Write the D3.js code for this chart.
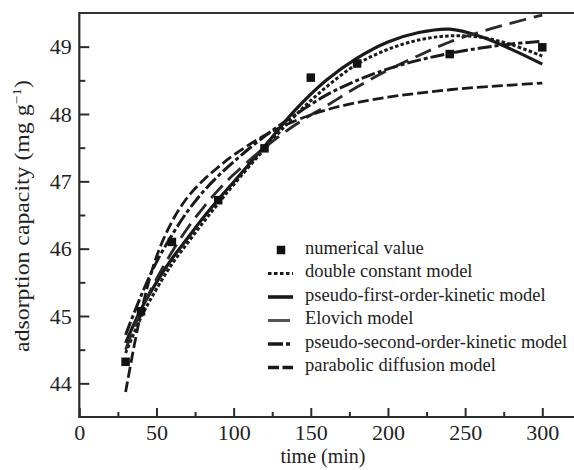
<!DOCTYPE html>
<html><head><meta charset="utf-8">
<script src="https://cdn.jsdelivr.net/npm/d3@7"></script>
<style>
html,body{margin:0;padding:0;background:#fff;}
svg{display:block;font-family:"Liberation Serif","Times New Roman",serif;}
</style></head>
<body><svg id="c" width="574" height="470"></svg>
<script>
// ---- data ----
const pointTimes = [30, 40, 60, 90, 120, 150, 180, 240, 300];
const pointValues = [44.32, 45.07, 46.1, 46.72, 47.49, 48.54, 48.75, 48.89, 48.99];

const curveTimes = [30, 40, 50, 60, 70, 80, 90, 100, 120, 140, 160, 180, 200, 220, 240, 260, 280, 300];
const doubleConstant = [44.45, 44.98, 45.4, 45.77, 46.08, 46.38, 46.67, 46.95, 47.48, 47.98, 48.4, 48.74, 48.96, 49.1, 49.16, 49.14, 49.03, 48.86];
const pseudoFirst = [44.6, 45.1, 45.5, 45.85, 46.15, 46.45, 46.73, 46.99, 47.52, 48.06, 48.5, 48.83, 49.07, 49.21, 49.26, 49.15, 48.96, 48.74];
const elovich = [44.5, 45.08, 45.55, 45.95, 46.3, 46.6, 46.87, 47.1, 47.5, 47.84, 48.12, 48.4, 48.65, 48.87, 49.07, 49.22, 49.35, 49.47];
const pseudoSecond = [44.72, 45.3, 45.8, 46.2, 46.55, 46.84, 47.08, 47.29, 47.67, 47.99, 48.28, 48.5, 48.67, 48.8, 48.9, 48.98, 49.04, 49.08];
const parabolic = [43.87, 45.05, 45.88, 46.4, 46.76, 47.01, 47.21, 47.39, 47.68, 47.9, 48.06, 48.17, 48.25, 48.31, 48.36, 48.4, 48.43, 48.46];

const xTicks = [0, 50, 100, 150, 200, 250, 300];
const xMinor = [25, 75, 125, 175, 225, 275];
const yTicks = [44, 45, 46, 47, 48, 49];
const yMinor = [44.5, 45.5, 46.5, 47.5, 48.5];

const legendLabels = ["numerical value", "double constant model", "pseudo-first-order-kinetic model",
  "Elovich model", "pseudo-second-order-kinetic model", "parabolic diffusion model"];

// ---- setup ----
const svg = d3.select("#c");
const L = 79.3, R = 574, T = 13, B = 417;
const x = d3.scaleLinear().domain([0, 320]).range([L, L + 320 * 1.5433]);
const y = d3.scaleLinear().domain([43.5, 49.5]).range([B, T]);
const ink = "#1a1a1a";

svg.append("defs").append("clipPath").attr("id", "clip")
  .append("rect").attr("x", L).attr("y", T).attr("width", R - L).attr("height", B - T);

// series definitions
const series = [
  {vals: doubleConstant, dash: "3.5,2.2", w: 3, color: ink, legDash: "3.5,2.5", legW: 3},
  {vals: pseudoFirst, dash: null, w: 3.2, color: ink, legDash: null, legW: 3.6},
  {vals: elovich, dash: "17,8", w: 2.8, color: "#2a2a2a", legDash: null, legW: 3, legColor: "#555", legLen: 22},
  {vals: pseudoSecond, dash: "14,3,4,3", w: 3, color: ink, legDash: "15,3,4,3", legW: 3.4},
  {vals: parabolic, dash: "11,4", w: 2.8, color: ink, legDash: "11,3.5", legW: 3.4}
];

const line = d3.line()
  .x((d, i) => x(curveTimes[i]))
  .y(d => y(d))
  .curve(d3.curveCatmullRom.alpha(0.5));

const plot = svg.append("g").attr("clip-path", "url(#clip)");
series.forEach(s => {
  plot.append("path").datum(s.vals)
    .attr("d", line)
    .attr("fill", "none")
    .attr("stroke", s.color)
    .attr("stroke-width", s.w)
    .attr("stroke-dasharray", s.dash)
    .attr("stroke-linejoin", "round");
});

// squares
const sq = 8.5;
plot.selectAll("rect.pt").data(pointTimes).enter().append("rect")
  .attr("class", "pt")
  .attr("x", (d) => x(d) - sq / 2)
  .attr("y", (d, i) => y(pointValues[i]) - sq / 2)
  .attr("width", sq).attr("height", sq)
  .attr("fill", "#111");

// ---- axes ----
const axisColor = "#2b2b2b";
const gx = svg.append("g").attr("transform", `translate(0,${B})`)
  .call(d3.axisBottom(x).tickValues(xTicks).tickSizeInner(-9).tickSizeOuter(0).tickPadding(7).tickFormat(d3.format("d")));
const gxm = svg.append("g").attr("transform", `translate(0,${B})`)
  .call(d3.axisBottom(x).tickValues(xMinor).tickSizeInner(-5).tickSizeOuter(0).tickFormat(""));
const gy = svg.append("g").attr("transform", `translate(${L},0)`)
  .call(d3.axisLeft(y).tickValues(yTicks).tickSizeInner(-10).tickSizeOuter(0).tickPadding(7.6).tickFormat(d3.format("d")));
const gym = svg.append("g").attr("transform", `translate(${L},0)`)
  .call(d3.axisLeft(y).tickValues(yMinor).tickSizeInner(-6).tickSizeOuter(0).tickFormat(""));

[gx, gxm, gy, gym].forEach(g => {
  g.select(".domain").remove();
  g.selectAll(".tick line").attr("stroke", axisColor).attr("stroke-width", 2);
  g.selectAll("text").attr("fill", "#222").style("font-family", "'Liberation Serif','Times New Roman',serif").style("font-size", "22px");
});

// frame lines
svg.append("line").attr("x1", L).attr("x2", R).attr("y1", B).attr("y2", B)
  .attr("stroke", axisColor).attr("stroke-width", 2.2);
svg.append("line").attr("x1", L).attr("x2", L).attr("y1", T - 1).attr("y2", B + 1)
  .attr("stroke", axisColor).attr("stroke-width", 2.2);
svg.append("line").attr("x1", L).attr("x2", R).attr("y1", T).attr("y2", T)
  .attr("stroke", "#333").attr("stroke-width", 2.2);

// axis titles
svg.append("text").attr("x", 323).attr("y", 462.5).attr("text-anchor", "middle")
  .attr("fill", "#222").style("font-size", "20px").text("time (min)");

const yt = svg.append("text").attr("text-anchor", "middle")
  .attr("fill", "#222").style("font-size", "20px");
yt.append("tspan").text("adsorption capacity (mg g");
yt.append("tspan").attr("dy", -8).style("font-size", "13px").text("\u22121");
yt.append("tspan").attr("dy", 8).text(")");
const natural = yt.node().getComputedTextLength();
const sc = 272 / natural;
yt.attr("transform", `translate(29,216) rotate(-90) scale(${sc},1)`);

// ---- legend ----
const leg = svg.append("g");
const legX0 = 268, legX1 = 293, textX = 305, row0 = 250, rowH = 23.5;
legendLabels.forEach((lab, i) => {
  const cy = row0 + i * rowH;
  if (i === 0) {
    leg.append("rect").attr("x", 281 - 4.25).attr("y", cy - 4.25).attr("width", 8.5).attr("height", 8.5).attr("fill", "#111");
  } else {
    const s = series[i - 1];
    leg.append("line")
      .attr("x1", legX0).attr("x2", s.legLen ? legX0 + s.legLen : legX1)
      .attr("y1", cy).attr("y2", cy)
      .attr("stroke", s.legColor || s.color)
      .attr("stroke-width", s.legW)
      .attr("stroke-dasharray", s.legDash);
  }
  leg.append("text").attr("x", textX).attr("y", cy + 3.5)
    .attr("fill", "#222").style("font-size", "18.5px").text(lab);
});
</script></body></html>
